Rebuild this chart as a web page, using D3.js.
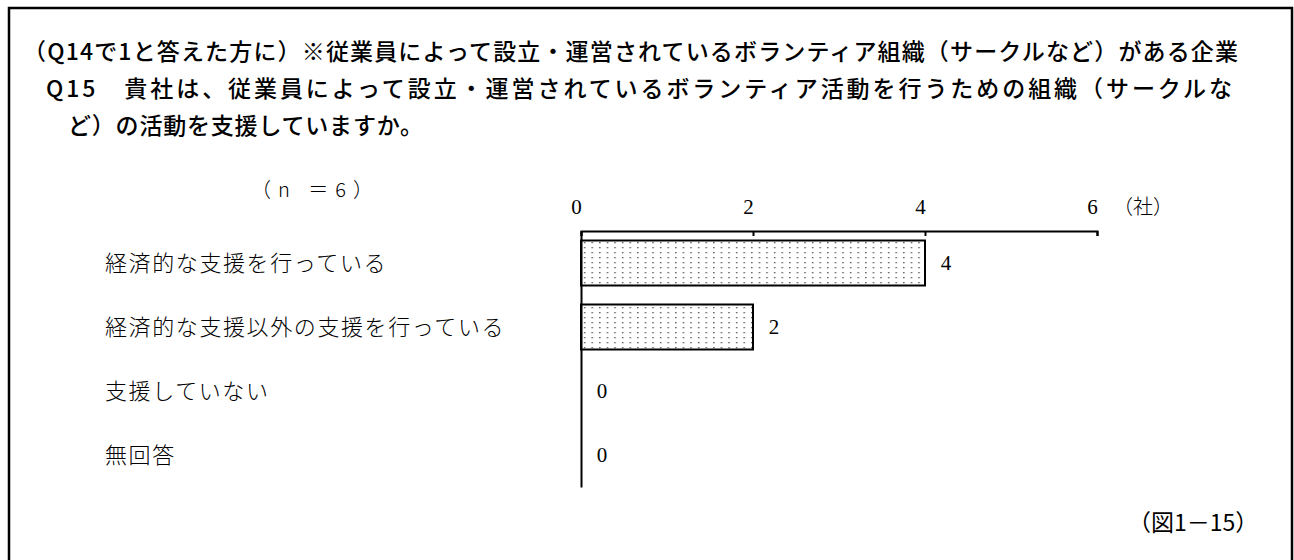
<!DOCTYPE html>
<html><head><meta charset="utf-8">
<script src="https://cdn.jsdelivr.net/npm/d3@7"></script>
<style>
html,body{margin:0;padding:0;background:#fff;}
svg{display:block;}
</style></head>
<body>
<svg id="chart" width="1294" height="560"></svg>
<script>
const categories = ["経済的な支援を行っている","経済的な支援以外の支援を行っている","支援していない","無回答"];
const values = [4, 2, 0, 0];
const tickValues = [0, 2, 4, 6];
const titleLines = [
  "（Q14で1と答えた方に）※従業員によって設立・運営されているボランティア組織（サークルなど）がある企業",
  "Q15　貴社は、従業員によって設立・運営されているボランティア活動を行うための組織（サークルな",
  "ど）の活動を支援していますか。"
];
const nLabel = "（n ＝6）";
const unitLabel = "（社）";
const figLabel = "（図1－15）";

const svg = d3.select("#chart");
const sansJP = "'Noto Sans CJK JP','Noto Sans',sans-serif";
const serifNum = "'Liberation Serif','DejaVu Serif',serif";

// frame
svg.append("rect").attr("x",9).attr("y",8).attr("width",1283).attr("height",600)
  .attr("fill","none").attr("stroke","#000").attr("stroke-width",2.5);

// titles
const titleSpecs = [
  {x:23, y:60, len:1215},
  {x:46, y:97, len:1186},
  {x:68, y:134, len:null}
];
titleLines.forEach((t,i)=>{
  const s = titleSpecs[i];
  const el = svg.append("text").attr("x",s.x).attr("y",s.y)
    .attr("font-family",sansJP).attr("font-size",23).attr("font-weight",500)
    .attr("fill","#000").text(t);
  if(s.len){ el.attr("textLength",s.len).attr("lengthAdjust","spacing"); }
  else { el.attr("letter-spacing",0.8); }
});

// scales
const x = d3.scaleLinear().domain([0,6]).range([581,1097]);
const y = d3.scaleBand().domain(categories).range([231,487]).padding(0);
const barH = 45;

// pattern
const defs = svg.append("defs");
const pat = defs.append("pattern").attr("id","dots").attr("patternUnits","userSpaceOnUse")
  .attr("x",581).attr("y",240).attr("width",7.6).attr("height",5);
pat.append("rect").attr("width",7.6).attr("height",5).attr("fill","#fff");
pat.append("rect").attr("x",3).attr("y",2).attr("width",1.3).attr("height",1.3).attr("fill","#444");

// bars
svg.append("g").selectAll("rect").data(values).join("rect")
  .attr("x",x(0))
  .attr("y",(d,i)=>y(categories[i]) + (y.bandwidth()-barH)/2)
  .attr("width",d=>x(d)-x(0))
  .attr("height",barH)
  .attr("fill","url(#dots)")
  .attr("stroke","#000").attr("stroke-width",2)
  .attr("display",d=>d>0?null:"none");

// top axis
const axTop = svg.append("g").attr("transform",`translate(0,${y.range()[0]})`)
  .call(d3.axisTop(x).tickValues(tickValues).tickSizeInner(-5).tickSizeOuter(-5).tickPadding(17).tickFormat(d3.format("d")));
axTop.select(".domain").attr("stroke","#000").attr("stroke-width",2);
axTop.selectAll(".tick line").attr("stroke","#000").attr("stroke-width",2);
axTop.selectAll(".tick text").attr("font-family",serifNum).attr("font-size",21).attr("fill","#000").attr("dx",-5);

// left axis line
const axLeft = svg.append("g").attr("transform",`translate(${x(0)},0)`)
  .call(d3.axisLeft(y).tickSize(0).tickFormat(""));
axLeft.select(".domain").attr("stroke","#000").attr("stroke-width",2);

// category labels
svg.append("g").selectAll("text").data(categories).join("text")
  .attr("x",105).attr("y",d=>y(d)+y.bandwidth()/2+8)
  .attr("font-family",sansJP).attr("font-size",22).attr("font-weight",300)
  .attr("letter-spacing",1.6).attr("fill","#000").text(d=>d);

// value labels
svg.append("g").selectAll("text").data(values).join("text")
  .attr("x",d=>x(d)+21).attr("y",(d,i)=>y(categories[i])+y.bandwidth()/2+7)
  .attr("text-anchor","middle")
  .attr("font-family",serifNum).attr("font-size",21).attr("fill","#000").text(d=>d);

// n label, unit, figure label
svg.append("text").attr("x",251).attr("y",197).attr("font-family",sansJP).attr("font-size",20).attr("font-weight",300)
  .attr("letter-spacing",7).text(nLabel);
svg.append("text").attr("x",1113).attr("y",214).attr("font-family",sansJP).attr("font-size",20).attr("font-weight",300).text(unitLabel);
svg.append("text").attr("x",1128).attr("y",531).attr("font-family",sansJP).attr("font-size",23).attr("font-weight",400).text(figLabel);
</script>
</body></html>
